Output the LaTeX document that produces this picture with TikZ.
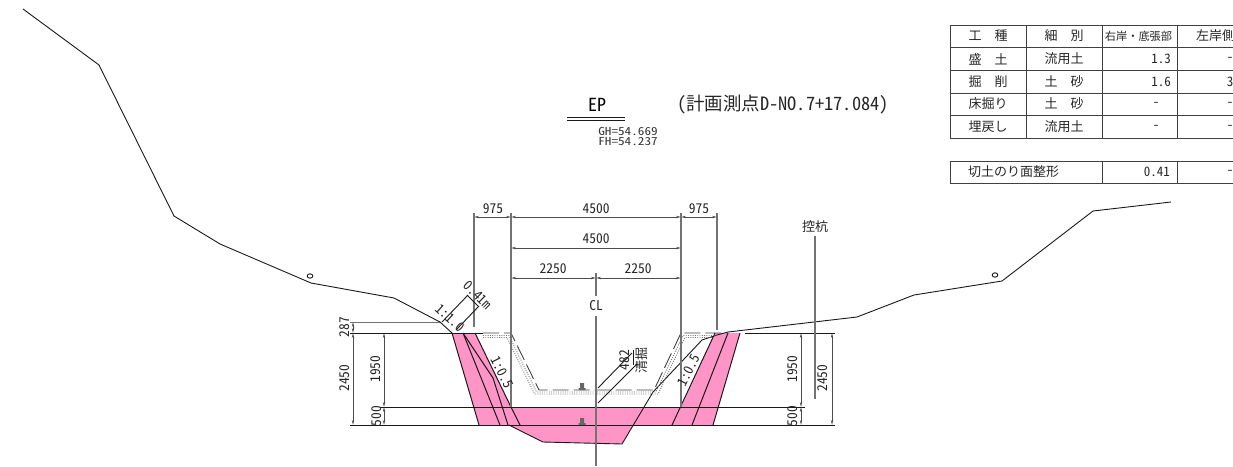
\documentclass[tikz,border=0pt]{standalone}
\usepackage{fontspec}
\setmainfont{Liberation Sans}
\newfontfamily\jp{Noto Sans CJK JP}
\newfontfamily\gm[RawFeature=+hwid]{Noto Sans CJK JP}
\newfontfamily\gw[RawFeature=+hwid,FakeStretch=1.2]{Noto Sans CJK JP}
\definecolor{pinkfill}{HTML}{FF94C6}
\usetikzlibrary{arrows.meta}
\tikzset{
 ln/.style={line width=0.9pt,black!90},
 hv/.style={line width=1pt,black!90},
 ext/.style={line width=1.2pt,black!55},
 dimn/.style={line width=0.8pt,black!70,<->,>={Stealth[length=5pt,width=2.4pt]}},
 dimt/.style={font=\gm\fontsize{13.5}{14}\selectfont,inner sep=0pt,text=black!85},
 tabt/.style={font=\jp\fontsize{13}{13}\selectfont,inner sep=0pt,text=black!85},
 tabn/.style={font=\gm\fontsize{13}{14}\selectfont,inner sep=0pt,text=black!85},
 grid/.style={line width=1pt,black!75},
 stip/.style={black!55,line width=0.9pt,dash pattern=on 0.9pt off 1.4pt},
 flowmark/.style={fill=black!60,draw=none},
}
\begin{document}
\begin{tikzpicture}[x=1pt,y=-1pt]
\useasboundingbox (0,0) rectangle (1233,466);
% pink area
\fill[pinkfill] (452,333)--(475,333)--(511,407)--(681,407)--(715,333)--(740,333)--(713,425)--(633,425)--(622,444)--(543,442)--(509,425)--(479,425)--cycle;
% horizontal levels
\draw[ext,line width=0.9pt] (350,322)--(440,322);
\draw[hv] (350,333)--(483,333);
\draw[hv] (745,333)--(835,333);
\draw[ln] (380,407)--(681,407);
\draw[ln] (681,407)--(805,407);
\draw[hv] (350,425)--(835,425);
% ground
\draw[ln] (23,9)--(99,65)--(174,216)--(220,244)--(311,283)--(394,298)--(440,322)--(452,333);
\draw[ln] (728,332)--(857,317)--(914,295)--(1002,281)--(1093,211)--(1171,202);
% lower excavation
\draw[ln] (509,425)--(543,442)--(622,444)--(653,392)--(702,340)--(717,335)--(728,332);
% pink slopes
\draw[hv] (452,333)--(479,425);
\draw[hv] (463,333)--(500,425);
\draw[hv] (475,333)--(511,407);
\draw[hv] (463,333)--(493,378)--(508,425);
\draw[hv] (511,407)--(520,425);
\draw[hv] (740,333)--(713,425);
\draw[hv] (728,333)--(692,425);
\draw[hv] (715,333)--(672,425);
% excavation outline
\draw[stip] (483,335.5)--(509,335.5)--(536.5,392)--(656,392)--(683,335.5)--(716,335.5);
\draw[stip] (483,337.5)--(507,337.5)--(534.5,394)--(658,394)--(685,337.5)--(712,337.5);
\draw[black!75,line width=0.9pt,dash pattern=on 16pt off 5pt] (483,333)--(511,333)--(539,390)--(654,390)--(681,333)--(728,333);
% extension lines
\draw[ext] (474,213)--(474,327);
\draw[ext] (511,213)--(511,407);
\draw[ext] (681,213)--(681,407);
\draw[ext] (717,213)--(717,330);
\draw[ext] (596,273)--(596,296);
\draw[ext] (596,316)--(596,466);
\draw[ext] (815,236)--(815,399);
% dims
\draw[dimn] (474,217)--(511,217);
\draw[dimn] (511,217)--(681,217);
\draw[dimn] (681,217)--(717,217);
\draw[dimn] (511,248)--(681,248);
\draw[dimn] (511,278)--(596,278);
\draw[dimn] (596,278)--(681,278);
\draw[dimn] (353,322)--(353,333);
\draw[dimn] (353,333)--(353,425);
\draw[dimn] (384,333)--(384,407);
\draw[dimn] (384,407)--(384,425);
\draw[dimn] (801,333)--(801,407);
\draw[dimn] (801,407)--(801,425);
\draw[dimn] (832,333)--(832,425);
% 0.41m
\draw[ln] (442,322)--(468,295);
\draw[ln] (456,330)--(479,306);
\draw[hv] (467,295)--(478,306);
% leaders
\draw[ln] (598,388)--(632,353);
\draw[ln] (598,403)--(637,364);
\draw[ln] (633,350)--(633,365);
% hill marks
\draw[ln] (310,276) ellipse (2.8pt and 2.2pt);
\draw[ln] (995,275) ellipse (2.8pt and 2.2pt);
% flow marks
\fill[flowmark] (580,383) rectangle (584,388) (578.5,388) rectangle (585.5,390);
\fill[flowmark] (580,418) rectangle (584,423) (578.5,423) rectangle (585.5,425);
% labels
\node[dimt] (a1) at (493,209) {975};
\node[dimt] (a2) at (596,209) {4500};
\node[dimt] (a3) at (699,209) {975};
\node[dimt] (a4) at (596,239) {4500};
\node[dimt] (a5) at (553,269) {2250};
\node[dimt] (a6) at (638,269) {2250};
\node[dimt] (cl) at (596,306) {CL};
\node[dimt,rotate=90] (b1) at (345,327) {287};
\node[dimt,rotate=90] (b2) at (345,378) {2450};
\node[dimt,rotate=90] (b3) at (376,369) {1950};
\node[dimt,rotate=90] (b4) at (377,416) {500};
\node[dimt,rotate=90] (b5) at (793,369) {1950};
\node[dimt,rotate=90] (b6) at (793,416) {500};
\node[dimt,rotate=90] (b7) at (823,378) {2450};
\node[dimt,rotate=-45] (c1) at (478,295) {0.41m};
\node[dimt,rotate=-42] (c2) at (450,318) {1:1.0};
\node[dimt,rotate=-63] (c3) at (502,372) {1:0.5};
\node[dimt,rotate=63] (c4) at (689,370) {1:0.5};
\node[dimt,rotate=90] (c5) at (625,360) {482};
\node[tabt,rotate=90] (c6) at (642,360) {清掘};
\node[tabt] (k) at (815,227) {控杭};
\node[font=\gm\fontsize{18}{18}\selectfont,inner sep=0pt] (ep) at (597,105) {EP};
\draw[ln] (567,117.3)--(625,117.3);
\draw[ln] (567,120.7)--(625,120.7);
\node[font=\gw\fontsize{11}{11}\selectfont,inner sep=0pt,text=black!80] (gh) at (628,131) {GH=54.669};
\node[font=\gw\fontsize{11}{11}\selectfont,inner sep=0pt,text=black!80] (fh) at (628,142) {FH=54.237};
\node[inner sep=0pt,anchor=west,text=black!85,font=\gm\fontsize{18.4}{21}\selectfont] (ttl) at (677,105) {(計画測点D-NO.7+17.084)};
% table
\draw[grid] (1233,25)--(950,25)--(950,138)--(1233,138);
\draw[grid] (950,47)--(1233,47) (950,70)--(1233,70) (950,93)--(1233,93) (950,115)--(1233,115);
\draw[grid] (1026,25)--(1026,138) (1102,25)--(1102,138) (1177,25)--(1177,138);
\draw[grid] (1233,161)--(950,161)--(950,183)--(1233,183);
\draw[grid] (1102,161)--(1102,183) (1177,161)--(1177,183);
\node[tabt] (t1) at (988,36) {工　種};
\node[tabt] (t2) at (1064,36) {細　別};
\node[tabt,font=\jp\fontsize{11.2}{11}\selectfont] (t3) at (1138.5,36) {右岸・底張部};
\node[tabt,anchor=west] (t4) at (1196,36) {左岸側};
\node[tabt] (t5) at (988,59) {盛　土};
\node[tabt] (t6) at (1064,59) {流用土};
\node[tabn,anchor=east] (t7) at (1171,59) {1.3};
\node[tabn] (t8) at (1230,59) {-};
\node[tabt] (t9) at (988,82) {掘　削};
\node[tabt] (t10) at (1064,82) {土　砂};
\node[tabn,anchor=east] (t11) at (1171,82) {1.6};
\node[tabn] (t12) at (1230,82) {3};
\node[tabt] (t13) at (988,104) {床掘り};
\node[tabt] (t14) at (1064,104) {土　砂};
\node[tabn] (t15) at (1156,104) {-};
\node[tabn] (t16) at (1230,104) {-};
\node[tabt] (t17) at (988,127) {埋戻し};
\node[tabt] (t18) at (1064,127) {流用土};
\node[tabn] (t19) at (1156,127) {-};
\node[tabn] (t20) at (1230,127) {-};
\node[tabt,anchor=west] (t21) at (968,172) {切土のり面整形};
\node[tabn,anchor=east] (t22) at (1170,172) {0.41};
\node[tabn] (t23) at (1230,172) {-};
\end{tikzpicture}
\end{document}
